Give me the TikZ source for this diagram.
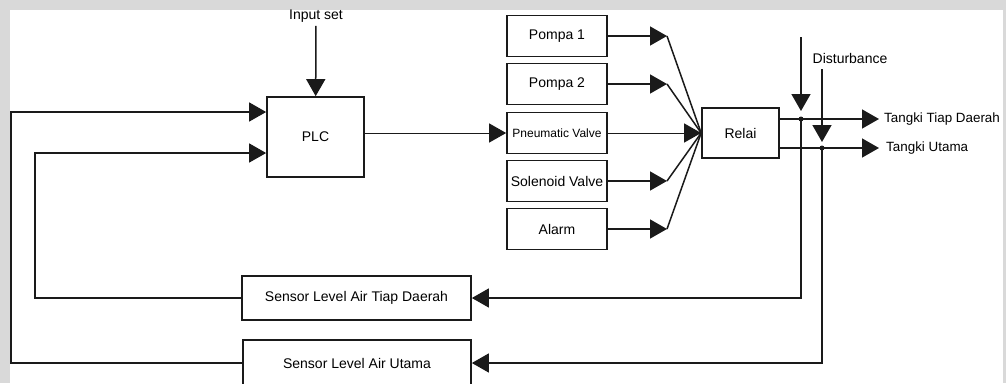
\documentclass[tikz,border=0pt]{standalone}
\usepackage{fontspec}
\setmainfont{Liberation Sans}
\usetikzlibrary{arrows.meta,calc,positioning}
\definecolor{Frame}{HTML}{D9D9D9}
\definecolor{Ink}{HTML}{1A1A1A}

\begin{document}
\begin{tikzpicture}[x=1pt,y=-1pt,
    box/.style={draw=Ink,line width=1.7pt,inner sep=0pt,font=\fontsize{14}{16}\selectfont},
    wire/.style={draw=Ink,line width=1.5pt},
    thinwire/.style={draw=Ink,line width=1pt},
    arr/.style={wire,-{Triangle[length=17pt,width=19pt]}},
    lbl/.style={font=\fontsize{14}{16}\selectfont}]
      \useasboundingbox(0,0)rectangle(1006,383);
      \fill[Frame](0,0)rectangle(1006,383);
      \fill[white](10,10)rectangle(1003,383);
      \node[box,minimum width=97pt,minimum height=80pt](plc)at(315.5,137){PLC};
      \node[lbl](inset)at(316,16){Input set};
      \node[box,minimum width=100pt,minimum height=41pt](pompa1)at(557,36){Pompa 1};
      \node[box,minimum width=100pt,minimum height=41pt](pompa2)at(557,84){Pompa 2};
      \node[box,minimum width=100pt,minimum height=41pt,font=\fontsize{12}{14}\selectfont](pneu)at(557,133){Pneumatic Valve};
      \node[box,minimum width=100pt,minimum height=41pt](solenoid)at(557,181){Solenoid Valve};
      \node[box,minimum width=100pt,minimum height=41pt](alarm)at(557,229){Alarm};
      \node[box,minimum width=77pt,minimum height=50pt](relai)at(740.5,133){Relai};
      \node[box,minimum width=229pt,minimum height=44pt](sensD)at(356.5,298){Sensor Level Air Tiap Daerah};
      \node[box,minimum width=228pt,minimum height=46pt](sensU)at(357,363){Sensor Level Air Utama};
      \coordinate(fan)at(667,0);
      \coordinate(j1)at(801,119);
      \coordinate(j2)at(822,148);
      \coordinate(d1)at(801,37);
      \coordinate(d2)at(822,69);
      \coordinate(lA)at(11,112);
      \coordinate(lB)at(35,153);
      \node[lbl,anchor=west,inner sep=5pt,font=\fontsize{13.4}{15}\selectfont](tangkiD)at(879,119){Tangki Tiap Daerah};
      \node[lbl,anchor=west,inner sep=7pt,font=\fontsize{13.4}{15}\selectfont](tangkiU)at(879,148){Tangki Utama};
      \node[lbl](dist)at(850,58){Disturbance};
      \draw[arr](inset)--(plc);
      \draw[arr](sensU.west)-|(lA)--(plc.west|-lA);
      \draw[arr](sensD.west)-|(lB)--(plc.west|-lB);
      \draw[arr,thinwire](plc.east|-pneu.west)--(pneu.west);
      \foreach \n in {pompa1,pompa2,solenoid,alarm}{
        \draw[arr](\n.east)--(\n.east-|fan);
        \draw[wire](\n.east-|fan)--(relai.west);}
      \draw[arr,thinwire](pneu.east)--(relai.west);
      \draw[arr](relai.east|-j1)--(tangkiD.west);
      \draw[arr](relai.east|-j2)--(tangkiU.west);
      \draw[arr,shorten >=8pt](d1)--(j1);
      \draw[arr,shorten >=6pt](d2)--(j2);
      \draw[arr](j1)|-(sensD.east);
      \draw[arr](j2)|-(sensU.east);
      \fill[Ink](j1)circle(2.5pt)(j2)circle(2.5pt);
    \end{tikzpicture}
\end{document}
